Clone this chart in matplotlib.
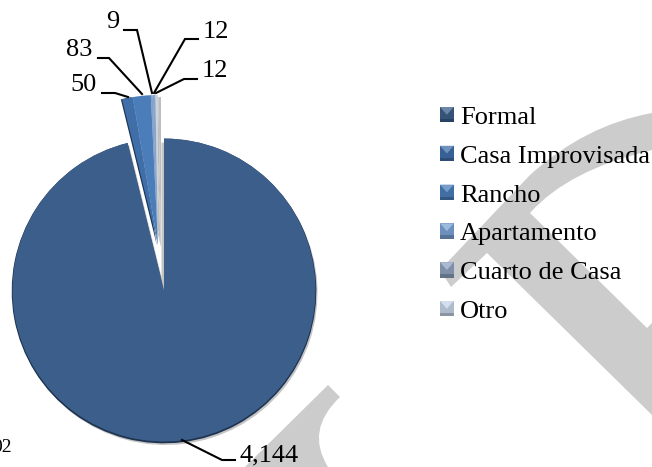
import matplotlib
matplotlib.use('Agg')
import matplotlib.pyplot as plt
from matplotlib.colors import to_rgb
from matplotlib.legend_handler import HandlerBase
from matplotlib.patches import PathPatch, Polygon, Rectangle, Wedge
from matplotlib.path import Path

categories = ['Formal', 'Casa Improvisada', 'Rancho', 'Apartamento', 'Cuarto de Casa', 'Otro']
values = [4144, 50, 83, 9, 12, 12]
colors = ['#3c5e8a', '#3f6ea8', '#4a7db9', '#7ba3d6', '#8fa3c0', '#c6d4e8']

plt.rcParams['font.family'] = ['Liberation Serif', 'DejaVu Serif']
FS = 19


def mix(color, other, t):
    c = to_rgb(color)
    o = to_rgb(other)
    return tuple(c[i] * (1 - t) + o[i] * t for i in range(3))


class BevelHandler(HandlerBase):
    # cuadrito con bisel como en la leyenda de Excel
    def create_artists(self, legend, orig_handle, xdescent, ydescent, width, height, fontsize, trans):
        col = orig_handle.get_facecolor()
        x0, y0 = -xdescent, -ydescent
        x1, y1 = x0 + width, y0 + height
        xm, ym = (x0 + x1) / 2, (y0 + y1) / 2
        band = height * 0.22
        parts = [
            Rectangle((x0, y0), width, height, facecolor=mix(col, 'black', 0.12), edgecolor='none'),
            Polygon([(x0, y1), (x1, y1), (xm, ym)], facecolor=mix(col, 'white', 0.25), edgecolor='none'),
            Rectangle((x0, y0), width, band, facecolor=mix(col, 'black', 0.3), edgecolor='none'),
        ]
        for p in parts:
            p.set_transform(trans)
        return parts


def copy_wedge(w, dx, dy, dr, color, z):
    cx, cy = w.center
    s = Wedge((cx + dx, cy + dy), w.r + dr, w.theta1, w.theta2, facecolor=color, edgecolor='none', zorder=z)
    ax.add_patch(s)


def leader(xs, ys):
    ax.plot(xs, ys, color='black', lw=1.5, solid_joinstyle='miter', zorder=6)


fig = plt.figure(figsize=(6.52, 4.67), dpi=100)
ax = fig.add_axes([0, 0, 1, 1])

# pastel: el eje y va hacia abajo, en pixeles
wedges, _ = ax.pie(values, colors=colors, startangle=270, counterclock=True,
                   center=(164, 290), radius=151.5,
                   wedgeprops={'edgecolor': 'none', 'zorder': 4})
ax.set_xlim(0, 652)
ax.set_ylim(467, 0)
ax.set_aspect('equal')
ax.axis('off')

# las rebanadas chicas van separadas, todas con el mismo centro
for w in wedges[1:]:
    w.set_center((158, 245))
    w.set_radius(150)

# sombras y bisel
copy_wedge(wedges[0], 1.5, 3, 0.5, '#c4c4c4', 2)
copy_wedge(wedges[0], 0, 1, 0.8, '#1e3350', 3)
copy_wedge(wedges[0], -2.5, 0, -4, '#c4c4c4', 3.6)
for w in wedges[1:]:
    copy_wedge(w, 3, 2, 0, '#bdbdbd', 3.2)
copy_wedge(wedges[1], -1.2, 0, 0, '#1d3350', 3.5)

# marca de agua
wm1 = Path([(652, 113), (585, 125), (530, 175), (440, 270), (451, 287), (487, 253),
            (652, 415), (652, 323), (647, 328), (530, 213), (568, 170), (652, 150), (652, 113)],
           [Path.MOVETO, Path.CURVE3, Path.CURVE3, Path.LINETO, Path.LINETO, Path.LINETO,
            Path.LINETO, Path.LINETO, Path.LINETO, Path.LINETO, Path.CURVE3, Path.CURVE3, Path.CLOSEPOLY])
wm2 = Path([(328, 385), (340, 397), (305, 430), (328, 467), (245, 467), (328, 385)],
           [Path.MOVETO, Path.LINETO, Path.CURVE3, Path.CURVE3, Path.LINETO, Path.CLOSEPOLY])
for p in [wm1, wm2]:
    ax.add_patch(PathPatch(p, facecolor='#cccccc', edgecolor='none', zorder=0))

# etiquetas con lineas guia
labels = [f'{v:,}' for v in values]
ax.text(239, 455, labels[0], fontsize=FS, ha='left', va='center', zorder=7)
ax.text(84, 85, labels[1], fontsize=FS, ha='center', va='center', zorder=7)
ax.text(79, 50, labels[2], fontsize=FS, ha='center', va='center', zorder=7)
ax.text(113, 22, labels[3], fontsize=FS, ha='center', va='center', zorder=7)
ax.text(216, 32, labels[4], fontsize=FS, ha='center', va='center', zorder=7)
ax.text(215, 71, labels[5], fontsize=FS, ha='center', va='center', zorder=7)
leader([182, 222, 235], [440, 460, 460])
leader([102, 115, 128], [93, 93, 97])
leader([98, 109, 142], [58, 58, 94])
leader([124, 137, 152], [30, 30, 93])
leader([198, 185, 154], [39, 39, 93])
leader([197, 184, 156], [79, 79, 93])

# resto de un texto cortado en el borde
ax.text(12, 447, '02', fontsize=14, ha='right', va='center', zorder=7)

ax.legend(wedges, categories, handler_map={Wedge: BevelHandler()},
          loc='upper left', bbox_to_anchor=(440, 107), bbox_transform=ax.transData,
          frameon=False, fontsize=FS, labelspacing=0.635, handlelength=0.52, handleheight=0.52,
          handletextpad=0.23, borderpad=0, borderaxespad=0)

fig.savefig('out.png', dpi=100)
plt.close(fig)
